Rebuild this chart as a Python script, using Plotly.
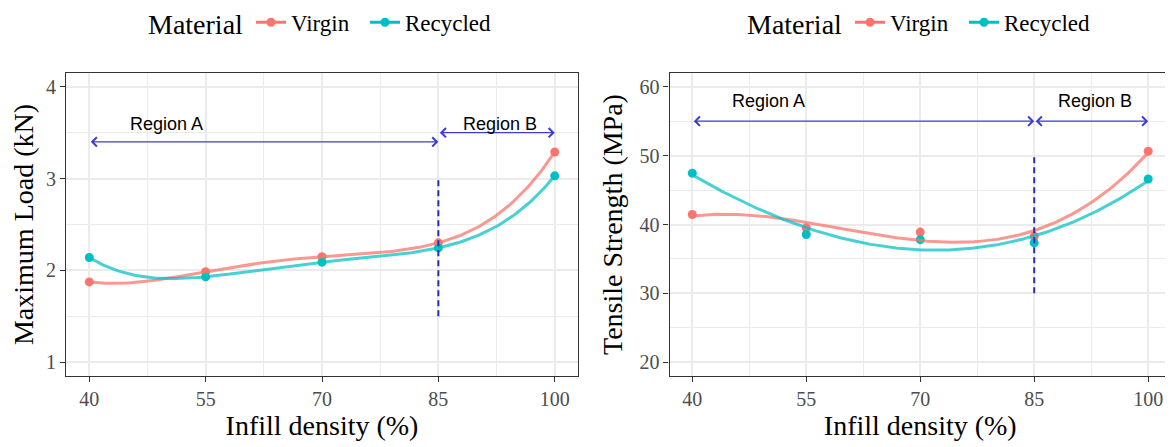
import numpy as np
import plotly.graph_objects as go

# ---------------- data ----------------
infill = [40, 55, 70, 85, 100]
series_names = ["Virgin", "Recycled"]
series_colors = ["#F8766D", "#00BFC4"]
curve_colors = ["rgba(248,118,109,0.75)", "rgba(0,191,196,0.72)"]

load_virgin = [1.875, 1.985, 2.15, 2.30, 3.29]
load_recycled = [2.14, 1.93, 2.09, 2.245, 3.03]
ts_virgin = [41.45, 39.5, 38.9, 38.3, 50.64]
ts_recycled = [47.46, 38.55, 37.8, 37.35, 46.6]

x_ticks = [40, 55, 70, 85, 100]
load_ticks = [1, 2, 3, 4]
ts_ticks = [20, 30, 40, 50, 60]

legend_title = "Material"
region_labels = ["Region A", "Region B"]
boundary = 85
# annotation values (data units)
load_arrow_y = [3.4, 3.5]
load_text_x = [50, 93]
load_text_y = [3.6, 3.6]
load_vline = [1.5, 3.0]
ts_arrow_y = [55, 55]
ts_text_x = [50, 93]
ts_text_y = [58, 58]
ts_vline = [30, 50]

SERIF = "Liberation Serif"
SANS = "Liberation Sans"
ARROW = "#3C3CD2"
DASH = "#2B2BB4"
GRID = "#EBEBEB"
AX = "#333333"


def smooth(x, y, deg, n=200):
    x = np.asarray(x, float)
    y = np.asarray(y, float)
    xc, xs = x.mean(), x.std()
    c = np.polyfit((x - xc) / xs, y, deg)
    g = np.linspace(x.min(), x.max(), n)
    return g, np.polyval(c, (g - xc) / xs)


def mids(v):
    return [(a + b) / 2 for a, b in zip(v[:-1], v[1:])]


# page body has an 8px default margin: positions below are viewport px minus that
OFF = 8
W, H = 1173, 447
ML = 66 - OFF
MT = 72.7 - OFF
MR = W - (1171 - OFF)
MB = H - (376 - OFF)
PW = W - ML - MR
PH = H - MT - MB


def px_x(v):
    return (v - OFF - ML) / PW


def px_y(v):
    return 1 + (MT - (v - OFF)) / PH


fig = go.Figure()

panels = [
    ("x", "y", ["legend", "legend2"], [load_virgin, load_recycled], 4),
    ("x2", "y2", ["legend3", "legend4"], [ts_virgin, ts_recycled], 3),
]

for xa, ya, lgs, ys, deg in panels:
    for name, col, yv in zip(series_names, series_colors, ys):
        fig.add_trace(go.Scatter(x=infill, y=yv, mode="markers", xaxis=xa, yaxis=ya,
                                 marker=dict(color=col, size=9), showlegend=False,
                                 hoverinfo="skip"))
    for name, col, yv in zip(series_names, curve_colors, ys):
        gx, gy = smooth(infill, yv, deg)
        fig.add_trace(go.Scatter(x=gx, y=gy, mode="lines", xaxis=xa, yaxis=ya,
                                 line=dict(color=col, width=3), showlegend=False,
                                 hoverinfo="skip"))
    for name, col, lg in zip(series_names, series_colors, lgs):
        fig.add_trace(go.Scatter(x=[None], y=[None], mode="lines+markers", name=name,
                                 xaxis=xa, yaxis=ya, legend=lg,
                                 line=dict(color=col, width=3),
                                 marker=dict(color=col, size=9)))

annotations = []
shapes = []
for xa, ya, arr_y, tx, ty, vl in [("x", "y", load_arrow_y, load_text_x, load_text_y, load_vline),
                                   ("x2", "y2", ts_arrow_y, ts_text_x, ts_text_y, ts_vline)]:
    spans = [(x_ticks[0], boundary), (boundary, x_ticks[-1])]
    for (x0, x1), ay, lab, txx, tyy in zip(spans, arr_y, region_labels, tx, ty):
        annotations.append(dict(x=x1, y=ay, ax=x0, ay=ay, xref=xa, yref=ya,
                                axref=xa, ayref=ya, text="", showarrow=True,
                                arrowhead=4, arrowside="end+start", arrowsize=1.5,
                                arrowwidth=1.2, arrowcolor=ARROW))
        annotations.append(dict(x=txx, y=tyy, xref=xa, yref=ya, text=lab,
                                showarrow=False, font=dict(family=SANS, size=18, color="black")))
    shapes.append(dict(type="line", xref=xa, yref=ya, x0=boundary, x1=boundary,
                       y0=vl[0], y1=vl[1], line=dict(color=DASH, width=2, dash="6px,4px")))

# legend titles as paper annotations
for cx in [195, 794]:
    annotations.append(dict(x=px_x(cx), y=px_y(24), xref="paper", yref="paper",
                            text=legend_title, showarrow=False, xanchor="center", yanchor="middle",
                            font=dict(family=SERIF, size=28, color="black")))


def xaxis(dom, title, anchor):
    return dict(domain=dom, range=[37, 103], tickvals=x_ticks, anchor=anchor,
                automargin=False,
                showline=True, linecolor=AX, linewidth=1.2, mirror=True,
                ticks="outside", ticklen=5, tickwidth=1.2, tickcolor=AX,
                showgrid=True, gridcolor=GRID, gridwidth=1.8, zeroline=False,
                minor=dict(tickvals=mids(x_ticks), showgrid=True, gridcolor=GRID,
                           gridwidth=0.9, ticks=""),
                tickfont=dict(family=SERIF, size=20, color="#4D4D4D"),
                title=dict(text=title, font=dict(family=SERIF, size=28, color="black"),
                           standoff=6))


def yaxis(rng, ticks, title, anchor):
    return dict(domain=[0, 1], range=rng, tickvals=ticks, anchor=anchor,
                automargin=False,
                showline=True, linecolor=AX, linewidth=1.2, mirror=True,
                ticks="outside", ticklen=5, tickwidth=1.2, tickcolor=AX,
                showgrid=True, gridcolor=GRID, gridwidth=1.8, zeroline=False,
                minor=dict(tickvals=mids(ticks), showgrid=True, gridcolor=GRID,
                           gridwidth=0.9, ticks=""),
                tickfont=dict(family=SERIF, size=20, color="#4D4D4D"),
                title=dict(text=title, font=dict(family=SERIF, size=28, color="black"),
                           standoff=8))


def legend(left_px):
    return dict(orientation="h", x=px_x(left_px), y=px_y(22), xanchor="left",
                yanchor="middle", bgcolor="rgba(0,0,0,0)",
                font=dict(family=SERIF, size=23, color="black"),
                itemwidth=30, tracegroupgap=0)


fig.update_layout(
    width=W, height=H,
    margin=dict(l=ML, r=MR, t=MT, b=MB, pad=0, autoexpand=False),
    paper_bgcolor="white", plot_bgcolor="white",
    xaxis=xaxis([0, px_x(578)], "Infill density (%)", "y"),
    yaxis=yaxis([0.85, 4.15], load_ticks, "Maximum Load (kN)", "x"),
    xaxis2=xaxis([px_x(669.5), 1], "Infill density (%)", "y2"),
    yaxis2=yaxis([18, 62], ts_ticks, "Tensile Strength (MPa)", "x2"),
    legend=legend(251),
    legend2=legend(365),
    legend3=legend(850),
    legend4=legend(964),
    annotations=annotations,
    shapes=shapes,
    showlegend=True,
)

fig.write_html("out.html")
